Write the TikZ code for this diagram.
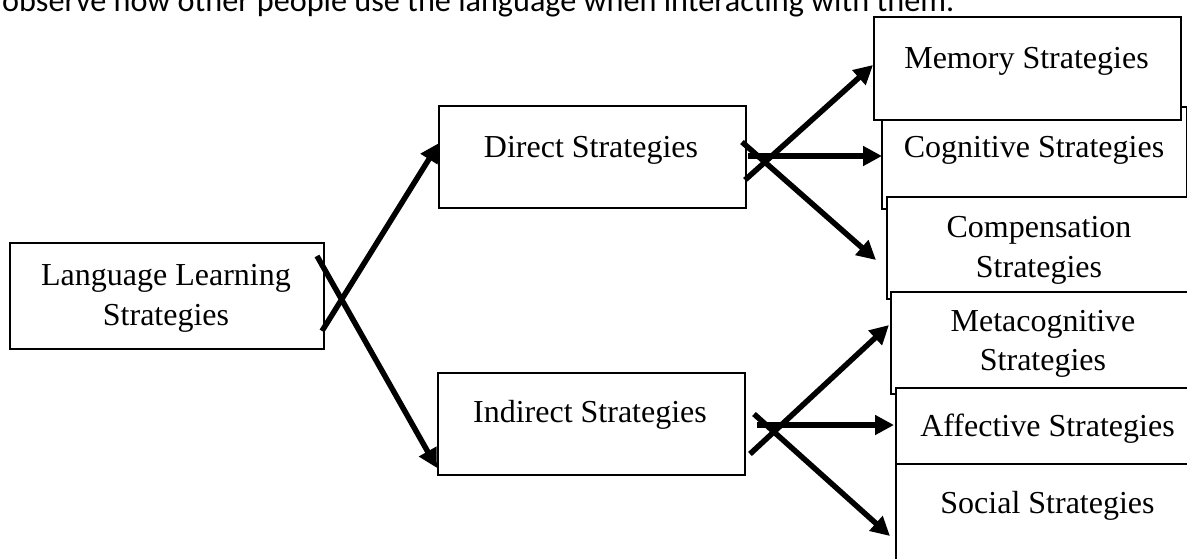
\documentclass[tikz,border=0pt]{standalone}
\usepackage{graphicx}
\usepackage{fontspec}
\setmainfont{Liberation Serif}
\newfontfamily\calibrifont{Carlito}
\usetikzlibrary{arrows.meta}
\begin{document}
\begin{tikzpicture}[x=1pt,y=-1pt,
  box/.style={draw, line width=2.4pt, fill=white, inner sep=0pt, anchor=north west},
  lbl/.style={anchor=base, inner sep=0pt, font=\fontsize{32}{40}\selectfont},
  arr/.style={line width=5.5pt, -{Triangle[length=19pt,width=19pt]}}]
\useasboundingbox (0,0) rectangle (1187,558);
\clip (0,0) rectangle (1187,558);
\fill[white] (0,0) rectangle (1187,558);

% header text (cut off at top)
\node[anchor=base west, inner sep=0pt] (hdr) at (2,11)
  {\resizebox{952pt}{!}{\calibrifont observe how other people use the language when interacting with them.}};

% boxes
\node[box, minimum width=314pt, minimum height=106pt] (lls) at (9,242) {};
\node[box, minimum width=307pt, minimum height=102pt] (dir) at (438,105) {};
\node[box, minimum width=307pt, minimum height=102pt] (ind) at (437,372) {};
\node[box, minimum width=305pt, minimum height=102pt] (cog) at (881,106) {};
\node[box, minimum width=307pt, minimum height=103pt] (mem) at (873,16) {};
\node[box, minimum width=306pt, minimum height=102pt] (com) at (886,196) {};
\node[box, minimum width=306pt, minimum height=102pt] (met) at (890,291) {};
\node[box, minimum width=305pt, minimum height=76pt] (aff) at (895,387) {};
\node[box, minimum width=305pt, minimum height=120pt] (soc) at (895,463) {};

% labels
\node[lbl] (llsA) at (166,285) {Language Learning};
\node[lbl] (llsB) at (166,325) {Strategies};
\node[lbl] (dirT) at (591,157) {Direct Strategies};
\node[lbl] (indT) at (590,422) {Indirect Strategies};
\node[lbl] (memT) at (1026.5,68) {Memory Strategies};
\node[lbl] (cogT) at (1034,157) {Cognitive Strategies};
\node[lbl] (comA) at (1039,237) {Compensation};
\node[lbl] (comB) at (1039,277) {Strategies};
\node[lbl] (metA) at (1043,331) {Metacognitive};
\node[lbl] (metB) at (1043,370) {Strategies};
\node[lbl] (affT) at (1047.5,436) {Affective Strategies};
\node[lbl] (socT) at (1047.5,513) {Social Strategies};

% connector end points
\coordinate (s1) at (322,331); \coordinate (e1) at (439,143);
\coordinate (s2) at (317,256); \coordinate (e2) at (437,468);
\coordinate (s3) at (745,180); \coordinate (e3) at (873,65);
\coordinate (s4) at (748,156); \coordinate (e4) at (882,156);
\coordinate (s5) at (742,142); \coordinate (e5) at (876,260);
\coordinate (s6) at (750,454); \coordinate (e6) at (889,325);
\coordinate (s7) at (757,425); \coordinate (e7) at (894,425);
\coordinate (s8) at (754,414); \coordinate (e8) at (890,536);

\draw[arr] (s1) -- (e1);
\draw[arr] (s2) -- (e2);
\draw[arr] (s3) -- (e3);
\draw[arr] (s4) -- (e4);
\draw[arr] (s5) -- (e5);
\draw[arr] (s6) -- (e6);
\draw[arr] (s7) -- (e7);
\draw[arr] (s8) -- (e8);
\end{tikzpicture}
\end{document}
